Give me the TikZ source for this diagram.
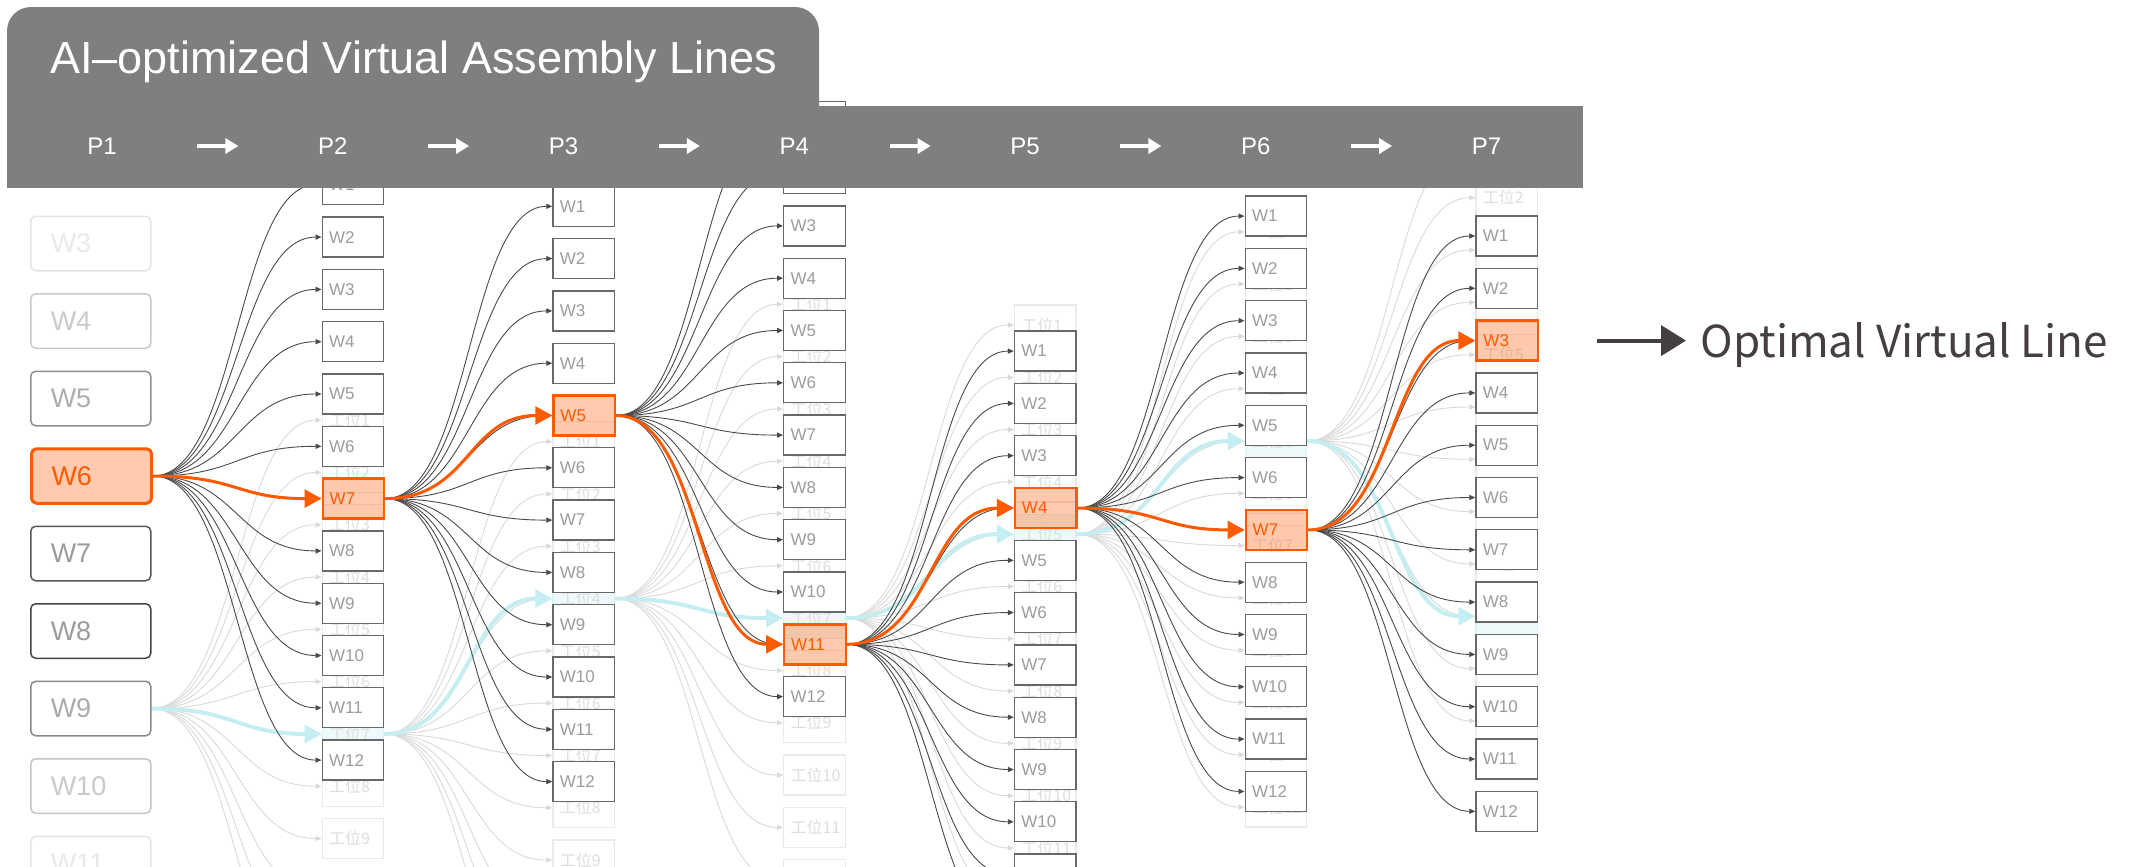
\documentclass[tikz,border=0pt]{standalone}
\usepackage{fontspec}
\setmainfont{Liberation Sans}
\newfontfamily\cjk{Noto Sans CJK SC}
\usetikzlibrary{arrows.meta,calc}
\pgfdeclarelayer{lzero}
\pgfdeclarelayer{lone}
\pgfdeclarelayer{ltop}
\pgfsetlayers{lzero,lone,main,ltop}
\definecolor{hdr}{HTML}{7F7F7F}
\definecolor{org}{HTML}{FF5A00}
\definecolor{lblue}{HTML}{C4EEF1}
\definecolor{lbfill}{HTML}{EDF9FA}
\definecolor{lbdraw}{HTML}{D6F3F5}
\definecolor{wtext}{HTML}{9C9C9C}
\definecolor{wdraw}{HTML}{686868}
\definecolor{gdraw}{HTML}{EAEAEA}
\definecolor{gtext}{HTML}{DDDDDD}
\definecolor{gline}{HTML}{D9D9D9}
\definecolor{dline}{HTML}{4A4A4A}
\definecolor{legc}{HTML}{463F3F}
\tikzset{
  wbox/.style={draw=wdraw, line width=0.65pt, fill=white, minimum height=20pt,
    inner xsep=3.5pt, inner ysep=0pt, text width=23.75pt, align=left,
    font=\fontsize{8.5}{9}\selectfont, text=wtext, anchor=west},
  obox/.style={wbox, draw=org, line width=1.2pt, fill=org, fill opacity=0.32,
    text opacity=1, text=org},
  gbox/.style={wbox, draw=gdraw, text=gtext, font=\cjk\fontsize{8}{9}\selectfont},
  lbbox/.style={gbox, draw=lbdraw, fill=lbfill},
  bigbox/.style={rounded corners=2.5pt, line width=0.75pt, fill=white,
    minimum height=27.25pt, inner xsep=10pt, inner ysep=0pt, text width=40pt,
    align=left, font=\fontsize{13.5}{14}\selectfont, anchor=west},
  dedge/.style={draw=dline, line width=0.45pt, -{Triangle[length=3pt,width=2.6pt]}},
  gedge/.style={draw=gline, line width=0.45pt, -{Triangle[length=3pt,width=2.6pt]}},
  oedge/.style={draw=org, line width=1.5pt, -{Triangle[length=8.5pt,width=9pt]}},
  bedge/.style={draw=lblue, line width=2pt, -{Triangle[length=8.5pt,width=9pt]}},
  harrow/.style={draw=white, line width=1.6pt, -{Triangle[length=6.5pt,width=7.5pt]}},
  legarrow/.style={draw=legc, line width=2pt, -{Triangle[length=12.5pt,width=15pt]}}
}
\begin{document}
\begin{tikzpicture}[x=0.5pt,y=-0.5pt]
\useasboundingbox (0,0) rectangle (2136,867);

% ---------- column 1 (large picker boxes)
\foreach \kk/\bd/\tx in {3/E4E4E4/E9E9E9,4/C9C9C9/CACACA,5/8E8E8E/AEAEAE,7/575757/9C9C9C,8/454545/9C9C9C,9/8A8A8A/AAAAAA,10/C4C4C4/C9C9C9,11/E4E4E4/E9E9E9}{
  \definecolor{bdc}{HTML}{\bd}\definecolor{txc}{HTML}{\tx}
  \node[bigbox, draw=bdc, text=txc] (c1w\kk) at (30,{476+(\kk-6)*77.5}) {W\kk};
}
\node[bigbox, draw=org, line width=1.5pt, fill=org, fill opacity=0.32, text opacity=1, text=org] (c1w6) at (30,476) {W6};

% ---------- columns 2..7, W boxes
\foreach \cc/\xl/\wy/\ob in {2/321.5/184.8/7, 3/552.25/206.3/5, 4/783/121.3/11, 5/1013.75/351.1/4, 6/1244.5/216.1/7, 7/1475.25/236/3}{
  \foreach \kk in {1,...,12}{
    \ifnum\kk=\ob\relax
      \node[obox] (c\cc w\kk) at (\xl,{\wy+(\kk-1)*52.3}) {W\kk};
    \else
      \node[wbox] (c\cc w\kk) at (\xl,{\wy+(\kk-1)*52.3}) {W\kk};
    \fi
  }
}

% ---------- faded layer
\begin{pgfonlayer}{lzero}
\foreach \cc/\xl/\gy/\bb in {2/321.5/420.15/7, 3/552.25/441.65/4, 4/783/304.35/7, 5/1013.75/324.95/5, 6/1244.5/231.8/5, 7/1475.25/145.5/10}{
  \foreach \kk in {1,...,12}{
    \ifnum\kk=\bb\relax
      \node[lbbox] (c\cc g\kk) at (\xl,{\gy+(\kk-1)*52.3}) {工位\kk};
    \else
      \node[gbox] (c\cc g\kk) at (\xl,{\gy+(\kk-1)*52.3}) {工位\kk};
    \fi
  }
}
\end{pgfonlayer}

% ---------- connectors
\begin{pgfonlayer}{lone}
\foreach \src/\tgt in {c1w9/2,c2g7/3,c3g4/4,c4g7/5,c5g5/6,c6g5/7}{
  \foreach \kk in {1,...,12}{
    \draw[gedge] (\src.east) .. controls +(85,0) and +(-85,0) .. (c\tgt g\kk.west);
  }
}
\foreach \src/\tgt in {c1w9/c2g7,c2g7/c3g4,c3g4/c4g7,c4g7/c5g5,c5g5/c6g5,c6g5/c7g10}{
  \draw[bedge] (\src.east) .. controls +(85,0) and +(-85,0) .. (\tgt.west);
}
\foreach \src/\tgt in {c1w6/2,c2w7/3,c3w5/4,c4w11/5,c5w4/6,c6w7/7}{
  \foreach \kk in {1,...,12}{
    \draw[dedge] (\src.east) .. controls +(85,0) and +(-85,0) .. (c\tgt w\kk.west);
  }
}
\foreach \src/\tgt in {c1w6/c2w7,c2w7/c3w5,c3w5/c4w11,c4w11/c5w4,c5w4/c6w7,c6w7/c7w3}{
  \draw[oedge] (\src.east) .. controls +(85,0) and +(-85,0) .. (\tgt.west);
}
\end{pgfonlayer}

% ---------- header
\begin{pgfonlayer}{ltop}
\fill[hdr, rounded corners=12pt] (7,7) rectangle (819,150);
\fill[hdr] (7,106) rectangle (1583,188);
\node[anchor=base west, text=white, inner sep=0pt, font=\fontsize{22.5}{26}\selectfont] (title) at (50,73.5) {AI–optimized Virtual Assembly Lines};
\foreach \ii in {1,...,7}{
  \node[text=white, font=\fontsize{12}{14}\selectfont] (p\ii) at ({102+(\ii-1)*230.75},146) {P\ii};
}
\foreach \ii [evaluate=\ii as \jj using int(\ii+1)] in {1,...,6}{
  \draw[harrow] ($(p\ii)!0.5!(p\jj)$) ++(-20,0) -- ++(41,0);
}
\end{pgfonlayer}

% ---------- legend
\coordinate (legs) at (1597,340.6);
\coordinate (lege) at (1686,340.6);
\node[anchor=base west, text=legc, inner sep=0pt, font=\cjk\fontsize{22}{26}\selectfont] (legt) at (1700,357) {Optimal Virtual Line};
\draw[legarrow] (legs) -- (lege);
\end{tikzpicture}
\end{document}
